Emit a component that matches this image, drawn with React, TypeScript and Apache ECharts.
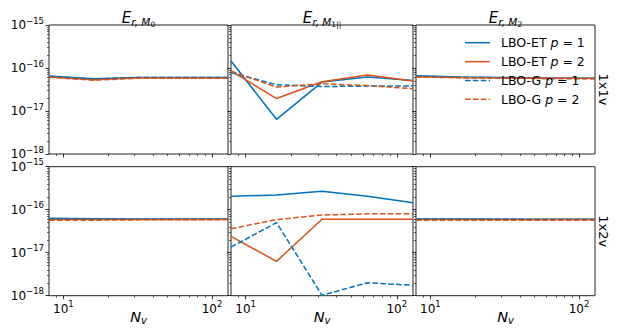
import React, { useEffect, useRef } from "react";
import * as echarts from "echarts";

// ---------------- data ----------------
const NV = [8, 16, 32, 64, 128];
const SERIES_NAMES = ["LBO-ET p = 1", "LBO-ET p = 2", "LBO-G p = 1", "LBO-G p = 2"];
const ROW_LABELS = ["1x1v", "1x2v"];
const COL_SUBS = ["0", "1||", "2"];
const X_TICKS = [10, 100];
const X_MINOR = [9, 20, 30, 40, 50, 60, 70, 80, 90];
const Y_TICKS = [1e-18, 1e-17, 1e-16, 1e-15];

// 1x1v, E_{r,M0}
const r1_m0_et1 = [6.5e-17, 5.6e-17, 6.0e-17, 6.0e-17, 6.0e-17];
const r1_m0_et2 = [6.2e-17, 5.3e-17, 5.9e-17, 5.9e-17, 5.9e-17];
const r1_m0_g1 = [6.4e-17, 5.5e-17, 6.0e-17, 6.0e-17, 6.0e-17];
const r1_m0_g2 = [6.1e-17, 5.2e-17, 5.8e-17, 5.8e-17, 5.8e-17];
// 1x1v, E_{r,M1||}
const r1_m1_et1 = [1.45e-16, 6.4e-18, 4.7e-17, 6.2e-17, 5.1e-17];
const r1_m1_et2 = [8.6e-17, 1.95e-17, 4.8e-17, 6.9e-17, 5.0e-17];
const r1_m1_g1 = [7.8e-17, 4.1e-17, 3.7e-17, 3.8e-17, 3.8e-17];
const r1_m1_g2 = [8.4e-17, 3.6e-17, 4.3e-17, 3.9e-17, 3.3e-17];
// 1x1v, E_{r,M2}
const r1_m2_et1 = [6.6e-17, 6.2e-17, 6.0e-17, 5.8e-17, 5.8e-17];
const r1_m2_et2 = [6.3e-17, 6.0e-17, 5.9e-17, 5.8e-17, 5.8e-17];
const r1_m2_g1 = [6.5e-17, 6.1e-17, 5.9e-17, 5.7e-17, 5.7e-17];
const r1_m2_g2 = [6.2e-17, 5.9e-17, 5.8e-17, 5.7e-17, 5.6e-17];
// 1x2v, E_{r,M0}
const r2_m0_et1 = [6.3e-17, 6.2e-17, 6.1e-17, 6.1e-17, 6.1e-17];
const r2_m0_et2 = [5.9e-17, 5.9e-17, 5.9e-17, 5.9e-17, 6.0e-17];
const r2_m0_g1 = [6.2e-17, 6.1e-17, 6.0e-17, 6.0e-17, 6.0e-17];
const r2_m0_g2 = [5.7e-17, 5.7e-17, 5.8e-17, 5.8e-17, 5.8e-17];
// 1x2v, E_{r,M1||}
const r2_m1_et1 = [2.05e-16, 2.2e-16, 2.7e-16, 2.05e-16, 1.45e-16];
const r2_m1_et2 = [2.4e-17, 6.3e-18, 6.0e-17, 6.0e-17, 6.0e-17];
const r2_m1_g1 = [1.35e-17, 5.0e-17, 1.02e-18, 2.0e-18, 1.75e-18];
const r2_m1_g2 = [3.6e-17, 5.9e-17, 7.5e-17, 8.0e-17, 8.1e-17];
// 1x2v, E_{r,M2}
const r2_m2_et1 = [6.1e-17, 6.1e-17, 6.0e-17, 6.0e-17, 6.0e-17];
const r2_m2_et2 = [5.9e-17, 5.9e-17, 5.9e-17, 5.9e-17, 5.9e-17];
const r2_m2_g1 = [6.0e-17, 6.0e-17, 6.0e-17, 5.9e-17, 5.9e-17];
const r2_m2_g2 = [5.7e-17, 5.7e-17, 5.7e-17, 5.7e-17, 5.7e-17];

const PANELS = [
  [r1_m0_et1, r1_m0_et2, r1_m0_g1, r1_m0_g2],
  [r1_m1_et1, r1_m1_et2, r1_m1_g1, r1_m1_g2],
  [r1_m2_et1, r1_m2_et2, r1_m2_g1, r1_m2_g2],
  [r2_m0_et1, r2_m0_et2, r2_m0_g1, r2_m0_g2],
  [r2_m1_et1, r2_m1_et2, r2_m1_g1, r2_m1_g2],
  [r2_m2_et1, r2_m2_et2, r2_m2_g1, r2_m2_g2],
];

// ---------------- style ----------------
const FONT = "DejaVu Sans";
const BLUE = "#0072BD";
const ORANGE = "#D95319";
const COLORS = [BLUE, ORANGE, BLUE, ORANGE];
const DASH = [5.5, 2.4];
const DASHES: any[] = ["solid", "solid", DASH, DASH];
const COL_LEFT = [49, 231, 416];
const COL_W = [179, 182, 179];
const ROW_TOP = [25, 166.7];
const ROW_H = 129;

function yMinor(): number[] {
  const out: number[] = [];
  for (let e = -18; e < -15; e++) {
    for (let m = 2; m <= 9; m++) out.push(Number((m * Math.pow(10, e)).toPrecision(3)));
  }
  return out;
}

const supRich = {
  b: { fontSize: 12, fontFamily: FONT, color: "#000", verticalAlign: "middle" },
  s: { fontSize: 8.5, fontFamily: FONT, color: "#000", verticalAlign: "middle", padding: [0, 0, 9, 0] },
};

function buildOption() {
  const grid: any[] = [];
  const xAxis: any[] = [];
  const yAxis: any[] = [];
  const series: any[] = [];
  const graphic: any[] = [];
  const Y_MINOR = yMinor();

  for (let r = 0; r < 2; r++) {
    for (let c = 0; c < 3; c++) {
      const gi = r * 3 + c;
      grid.push({
        left: COL_LEFT[c],
        top: ROW_TOP[r],
        width: COL_W[c],
        height: ROW_H,
        show: true,
        borderColor: "#222",
        borderWidth: 1,
        backgroundColor: "transparent",
      });
      xAxis.push({
        type: "log",
        logBase: 10,
        gridIndex: gi,
        min: 8,
        max: 128,
        position: "bottom",
        axisLine: { show: false },
        splitLine: { show: false },
        axisTick: { show: true, length: 3.5, customValues: X_TICKS, lineStyle: { color: "#000", width: 0.8 } },
        axisLabel: {
          show: r === 1,
          customValues: X_TICKS,
          margin: 4,
          formatter: (v: number) => `{b|10}{s|${Math.round(Math.log10(v))}}`,
          rich: supRich,
        },
      });
      xAxis.push({
        type: "log",
        logBase: 10,
        gridIndex: gi,
        min: 8,
        max: 128,
        position: "bottom",
        axisLine: { show: false },
        splitLine: { show: false },
        axisTick: { show: true, length: 2, customValues: X_MINOR, lineStyle: { color: "#000", width: 0.6 } },
        axisLabel: { show: false },
      });
      yAxis.push({
        type: "log",
        logBase: 10,
        gridIndex: gi,
        min: 1e-18,
        max: 1e-15,
        position: "left",
        axisLine: { show: false },
        splitLine: { show: false },
        axisTick: { show: true, length: 3.5, customValues: Y_TICKS, lineStyle: { color: "#000", width: 0.8 } },
        axisLabel: {
          show: c === 0,
          customValues: Y_TICKS,
          margin: 5,
          formatter: (v: number) => `{b|10}{s|\u2212${-Math.round(Math.log10(v))}}`,
          rich: supRich,
        },
      });
      yAxis.push({
        type: "log",
        logBase: 10,
        gridIndex: gi,
        min: 1e-18,
        max: 1e-15,
        position: "left",
        axisLine: { show: false },
        splitLine: { show: false },
        axisTick: { show: true, length: 2, customValues: Y_MINOR, lineStyle: { color: "#000", width: 0.6 } },
        axisLabel: { show: false },
      });

      const vals = PANELS[gi];
      for (let k = 0; k < 4; k++) {
        series.push({
          type: "line",
          name: SERIES_NAMES[k],
          xAxisIndex: gi * 2,
          yAxisIndex: gi * 2,
          data: NV.map((x, i) => [x, vals[k][i]]),
          symbol: "none",
          showSymbol: false,
          clip: true,
          z: 2 + k,
          lineStyle: { color: COLORS[k], width: 1.5, type: DASHES[k] },
          itemStyle: { color: COLORS[k] },
        });
      }
    }
  }

  // column titles and x labels
  for (let c = 0; c < 3; c++) {
    const cx = COL_LEFT[c] + COL_W[c] / 2;
    graphic.push({
      type: "text",
      x: cx,
      y: 18,
      style: {
        text: `{e|E}{s|r, M}{ss|${COL_SUBS[c]}}`,
        align: "center",
        verticalAlign: "middle",
        rich: {
          e: { fontSize: 15, fontStyle: "italic", fontFamily: FONT, color: "#000", verticalAlign: "middle" },
          s: { fontSize: 10.5, fontStyle: "italic", fontFamily: FONT, color: "#000", verticalAlign: "middle", padding: [7, 0, 0, 0] },
          ss: { fontSize: 7.5, fontFamily: FONT, color: "#000", verticalAlign: "middle", padding: [13, 0, 0, 0] },
        },
      },
    });
    graphic.push({
      type: "text",
      x: cx,
      y: 317,
      style: {
        text: `{n|N}{v|v}`,
        align: "center",
        verticalAlign: "middle",
        rich: {
          n: { fontSize: 14.5, fontStyle: "italic", fontFamily: FONT, color: "#000", verticalAlign: "middle" },
          v: { fontSize: 10, fontStyle: "italic", fontFamily: FONT, color: "#000", verticalAlign: "middle", padding: [7, 0, 0, 0] },
        },
      },
    });
  }
  // row labels
  for (let r = 0; r < 2; r++) {
    graphic.push({
      type: "text",
      x: 603,
      y: ROW_TOP[r] + ROW_H / 2,
      rotation: -Math.PI / 2,
      style: {
        text: ROW_LABELS[r],
        align: "center",
        verticalAlign: "middle",
        fontSize: 13,
        fontFamily: FONT,
        fill: "#000",
      },
    });
  }
  // legend (no frame), drawn as graphic elements
  const LEG_Y = [42.7, 61.7, 80.5, 99.3];
  for (let k = 0; k < 4; k++) {
    graphic.push({
      type: "line",
      shape: { x1: 465, y1: LEG_Y[k], x2: 490, y2: LEG_Y[k] },
      z: 100,
      style: {
        stroke: COLORS[k],
        lineWidth: 1.5,
        lineDash: k >= 2 ? DASH : null,
      },
    });
    graphic.push({
      type: "text",
      x: 501,
      y: LEG_Y[k],
      z: 100,
      style: {
        text: SERIES_NAMES[k].replace(" p = ", " {i|p} = "),
        align: "left",
        verticalAlign: "middle",
        fontSize: 12.5,
        fontFamily: FONT,
        fill: "#000",
        rich: {
          i: { fontSize: 12.5, fontStyle: "italic", fontFamily: FONT, color: "#000" },
        },
      },
    });
  }

  return {
    animation: false,
    backgroundColor: "#fff",
    textStyle: { fontFamily: FONT },
    grid,
    xAxis,
    yAxis,
    series,
    graphic,
  };
}

export default function App() {
  const ref = useRef<HTMLDivElement>(null);
  useEffect(() => {
    if (!ref.current) return;
    const chart = echarts.init(ref.current, undefined, { renderer: "svg" });
    chart.setOption(buildOption() as any);
    return () => chart.dispose();
  }, []);
  return (
    <div
      ref={ref}
      style={{ position: "fixed", left: 0, top: 0, width: 623, height: 328, background: "#fff" }}
    />
  );
}
